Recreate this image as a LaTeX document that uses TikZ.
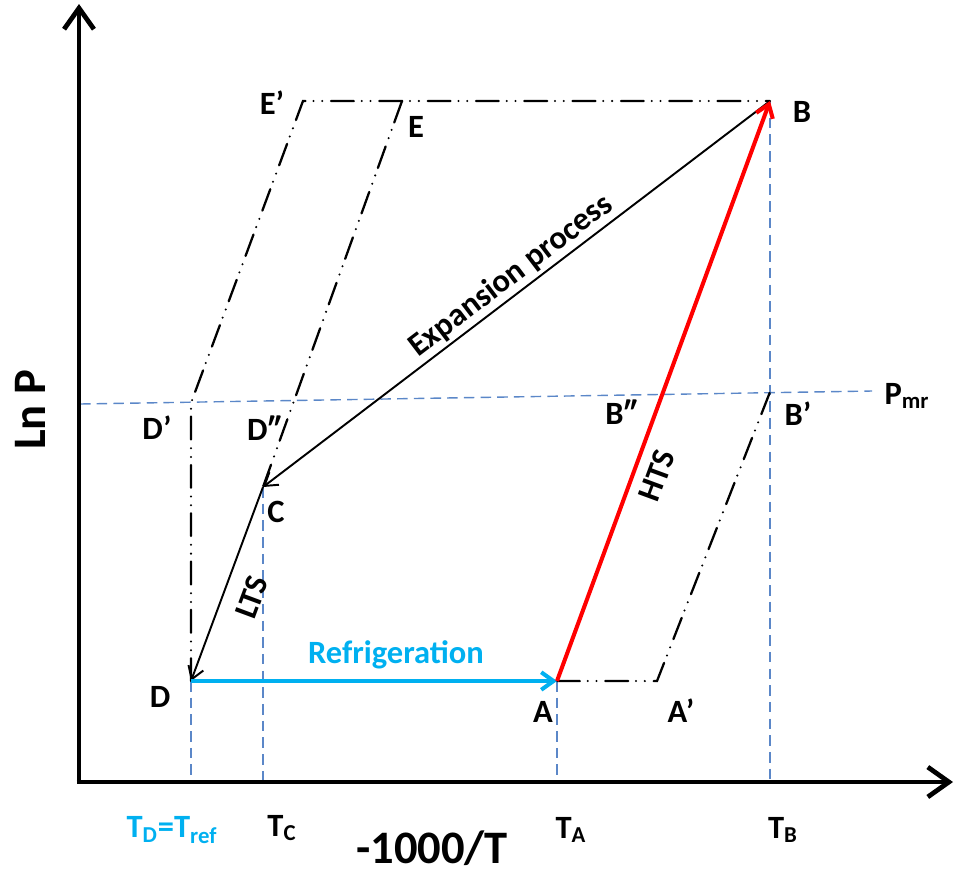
\documentclass[tikz,border=0pt]{standalone}
\usepackage{fontspec}
\setmainfont{Carlito}
\usetikzlibrary{arrows.meta}
\definecolor{refblue}{RGB}{0,176,240}
\definecolor{guide}{RGB}{91,135,200}
\tikzset{
  lbl/.style={font=\fontsize{18.5}{20}\selectfont\bfseries, inner sep=0pt},
  biglbl/.style={font=\fontsize{26.5}{30}\selectfont\bfseries, inner sep=0pt},
  guideline/.style={guide, line width=0.8pt, dash pattern=on 6pt off 3.5pt},
  dashdot/.style={black, line width=1.3pt, line cap=round,
    dash pattern=on 13pt off 4.5pt on 0pt off 5pt on 0pt off 5pt},
  axisline/.style={line width=2.7pt, -{Straight Barb[length=12pt,width=17pt]}},
  proc/.style={line width=1.1pt, -{Straight Barb[length=7pt,width=9pt]}},
}
\begin{document}
\begin{tikzpicture}[x=0.02cm,y=-0.02cm]
\useasboundingbox (0,0) rectangle (956,876);
% key points
\coordinate (O) at (79,782);
\coordinate (Ytop) at (79,4);
\coordinate (Xend) at (953,782);
\coordinate (A) at (557,681);
\coordinate (Ap) at (657,681);
\coordinate (B) at (770,101);
\coordinate (Bp) at (770,392);
\coordinate (C) at (263,487);
\coordinate (D) at (191,681);
\coordinate (Dp) at (191,403);
\coordinate (Ep) at (303,101);
\coordinate (E) at (402,101);
\coordinate (PL) at (80,404);
\coordinate (PR) at (872,391);
\coordinate (xD) at (191,782);
\coordinate (xC) at (263,782);
\coordinate (xA) at (557,782);
\coordinate (xB) at (770,782);
% guide lines
\draw[guideline] (PL) -- (PR);
\draw[guideline] (D) -- (xD);
\draw[guideline] (C) -- (xC);
\draw[guideline] (A) -- (xA);
\draw[guideline] (B) -- (xB);
% dash-dot paths
\draw[dashdot] (D) -- (Dp) -- (Ep) -- (B);
\draw[dashdot] (E) -- (C);
\draw[dashdot] (A) -- (Ap) -- (Bp);
% axes
\draw[axisline] (O) -- (Ytop);
\draw[axisline] ([xshift=-1.3pt]O) -- (Xend);
% processes
\draw[proc] (B) -- (C);
\draw[proc] (C) -- (D);
\draw[refblue, line width=2.3pt, -{Straight Barb[length=7pt,width=10pt]}] (D) -- (A);
\draw[red, line width=2.3pt, -{Straight Barb[length=7pt,width=10pt]}] (A) -- (B);
% labels
\node[lbl] (lEp) at (272,103) {E’};
\node[lbl] (lE) at (416,127) {E};
\node[lbl] (lB) at (802,112) {B};
\node[lbl] (lDp) at (157,428) {D’};
\node[lbl] (lDpp) at (264,428) {D″};
\node[lbl] (lC) at (276,512) {C};
\node[lbl] (lBpp) at (621,412) {B″};
\node[lbl] (lBp) at (798,414) {B’};
\node[lbl] (lP) at (907,396) {P\textsubscript{mr}};
\node[lbl] (lD) at (160,697) {D};
\node[lbl] (lA) at (543,712) {A};
\node[lbl] (lAp) at (681,711) {A’};
\node[lbl, rotate=37.3] (lexp) at (511,276) {Expansion process};
\node[lbl, rotate=69.8] (lhts) at (657,476) {HTS};
\node[lbl, rotate=69.6] (llts) at (252,597) {LTS};
\node[lbl, text=refblue] (lref) at (396,655) {Refrigeration};
\node[lbl, text=refblue] (lTD) at (172,830) {T\textsubscript{D}=T\textsubscript{ref}};
\node[lbl] (lTC) at (282,828) {T\textsubscript{C}};
\node[lbl] (lTA) at (571,830) {T\textsubscript{A}};
\node[lbl] (lTB) at (783,830) {T\textsubscript{B}};
\node[biglbl] (lx) at (432,848) {-1000/T};
\node[biglbl, rotate=90] (ly) at (30,410) {Ln P};
\end{tikzpicture}
\end{document}
